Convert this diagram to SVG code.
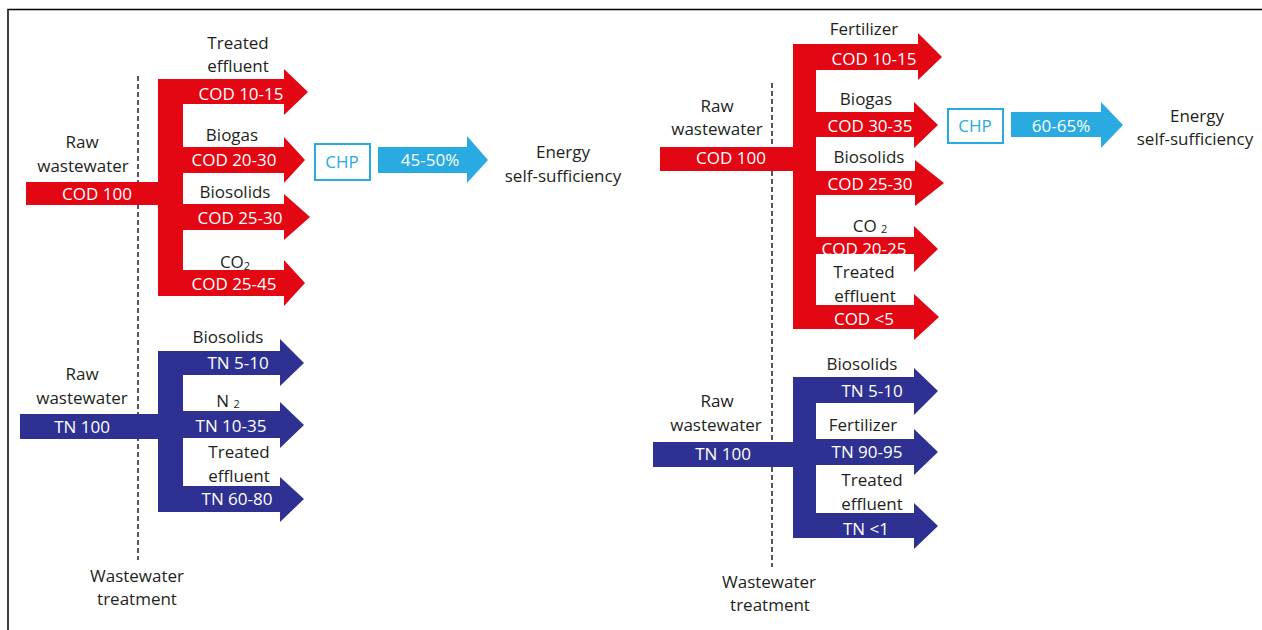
<svg xmlns="http://www.w3.org/2000/svg" width="1262" height="630" viewBox="0 0 1262 630">
<style>
text{font-family:"Open Sans","Noto Sans","Liberation Sans",sans-serif;font-size:17px;text-anchor:middle;fill:#231F20}
text.w{fill:#FFFFFF}
text.c{fill:#29ABE2}
.red{fill:#E30613}
.navy{fill:#2E3192}
.lb{fill:#29ABE2}
.dash{stroke:#231F20;stroke-width:1.5;stroke-dasharray:5 3;fill:none}
.sub{font-size:11px}
</style>
<rect x="0" y="0" width="1262" height="630" fill="#FFFFFF"/>
<path d="M8,630 V9.5 H1262" fill="none" stroke="#000000" stroke-width="1.5"/>

<g id="connectors">
<line class="dash" x1="138" y1="76" x2="138" y2="560"/>
<line class="dash" x1="772" y1="83" x2="772" y2="567"/>
</g>

<g id="left-cod">
<rect class="red" x="26" y="182" width="134" height="23"/>
<rect class="red" x="158" y="79" width="25" height="217"/>
<polygon class="red" points="158,79 284,79 284,69 308,92 284,115 284,104 158,104"/>
<polygon class="red" points="183,147 284,147 284,137 305,160 284,183 284,173 183,173"/>
<polygon class="red" points="183,204 284,204 284,194 310,217 284,240 284,230 183,230"/>
<polygon class="red" points="158,270 284,270 284,260 305,283 284,306 284,296 158,296"/>
<text x="82" y="148">Raw</text>
<text x="83" y="172">wastewater</text>
<text class="w" x="97" y="200">COD 100</text>
<text x="238" y="49">Treated</text>
<text x="238" y="72">effluent</text>
<text class="w" x="241" y="100">COD 10-15</text>
<text x="232" y="141">Biogas</text>
<text class="w" x="234" y="166">COD 20-30</text>
<text x="235" y="198">Biosolids</text>
<text class="w" x="240" y="224">COD 25-30</text>
<text x="235" y="268">CO<tspan class="sub" dy="2">2</tspan></text>
<text class="w" x="234" y="290">COD 25-45</text>
</g>

<g id="left-chp">
<rect x="315" y="144" width="55" height="36" fill="#FFFFFF" stroke="#29ABE2" stroke-width="2"/>
<text class="c" x="342" y="168">CHP</text>
<polygon class="lb" points="378,147 467,147 467,136 488,160 467,183 467,173 378,173"/>
<text class="w" x="430" y="166">45-50%</text>
<text x="563" y="158">Energy</text>
<text x="563" y="182">self-sufficiency</text>
</g>

<g id="left-tn">
<rect class="navy" x="20" y="414" width="140" height="25"/>
<rect class="navy" x="158" y="351" width="25" height="161"/>
<polygon class="navy" points="158,351 280,351 280,339 304,363 280,386 280,375 158,375"/>
<polygon class="navy" points="183,411 280,411 280,402 304,425 280,448 280,438 183,438"/>
<polygon class="navy" points="158,486 280,486 280,477 304,499 280,522 280,512 158,512"/>
<text x="82" y="380">Raw</text>
<text x="82" y="404">wastewater</text>
<text class="w" x="82" y="433">TN 100</text>
<text x="228" y="343">Biosolids</text>
<text class="w" x="238" y="369">TN 5-10</text>
<text x="228" y="407">N <tspan class="sub" dy="1">2</tspan></text>
<text class="w" x="231" y="432">TN 10-35</text>
<text x="239" y="458">Treated</text>
<text x="239" y="482">effluent</text>
<text class="w" x="237" y="505">TN 60-80</text>
<text x="137" y="582">Wastewater</text>
<text x="137" y="605">treatment</text>
</g>

<g id="right-cod">
<rect class="red" x="660" y="147" width="135" height="24"/>
<rect class="red" x="793" y="44" width="23" height="285"/>
<polygon class="red" points="793,44 918,44 918,33 942,57 918,80 918,70 793,70"/>
<polygon class="red" points="816,112 914,112 914,102 938,125 914,148 914,137 816,137"/>
<polygon class="red" points="816,171 915,171 915,160 944,183 915,206 915,195 816,195"/>
<polygon class="red" points="816,237 914,237 914,226 938,249 914,272 914,254 816,254"/>
<polygon class="red" points="793,305 914,305 914,294 939,317 914,340 914,329 793,329"/>
<text x="717" y="112">Raw</text>
<text x="717" y="135">wastewater</text>
<text class="w" x="731" y="164">COD 100</text>
<text x="864" y="35">Fertilizer</text>
<text class="w" x="874" y="65">COD 10-15</text>
<text x="866" y="105">Biogas</text>
<text class="w" x="870" y="132">COD 30-35</text>
<text x="869" y="163">Biosolids</text>
<text class="w" x="870" y="190">COD 25-30</text>
<text x="870" y="232">CO <tspan class="sub" dy="1">2</tspan></text>
<text class="w" x="864" y="255">COD 20-25</text>
<rect x="816" y="254" width="98" height="8" fill="#FFFFFF"/>
<text x="864" y="278">Treated</text>
<text x="865" y="302">effluent</text>
<text class="w" x="864" y="325">COD &lt;5</text>
</g>

<g id="right-chp">
<rect x="948" y="109" width="55" height="34" fill="#FFFFFF" stroke="#29ABE2" stroke-width="2"/>
<text class="c" x="975" y="132">CHP</text>
<polygon class="lb" points="1011,112 1101,112 1101,102 1123,125 1101,148 1101,137 1011,137"/>
<text class="w" x="1061" y="132">60-65%</text>
<text x="1197" y="122">Energy</text>
<text x="1195" y="145">self-sufficiency</text>
</g>

<g id="right-tn">
<rect class="navy" x="653" y="442" width="142" height="25"/>
<rect class="navy" x="793" y="377" width="23" height="161"/>
<polygon class="navy" points="793,377 914,377 914,368 938,391 914,415 914,403 793,403"/>
<polygon class="navy" points="816,439 914,439 914,429 938,452 914,475 914,465 816,465"/>
<polygon class="navy" points="793,513 914,513 914,503 938,526 914,549 914,538 793,538"/>
<text x="717" y="407">Raw</text>
<text x="716" y="431">wastewater</text>
<text class="w" x="723" y="460">TN 100</text>
<text x="862" y="370">Biosolids</text>
<text class="w" x="872" y="397">TN 5-10</text>
<text x="863" y="431">Fertilizer</text>
<text class="w" x="867" y="458">TN 90-95</text>
<text x="872" y="486">Treated</text>
<text x="872" y="510">effluent</text>
<text class="w" x="866" y="535">TN &lt;1</text>
<text x="769" y="588">Wastewater</text>
<text x="770" y="611">treatment</text>
</g>
</svg>
